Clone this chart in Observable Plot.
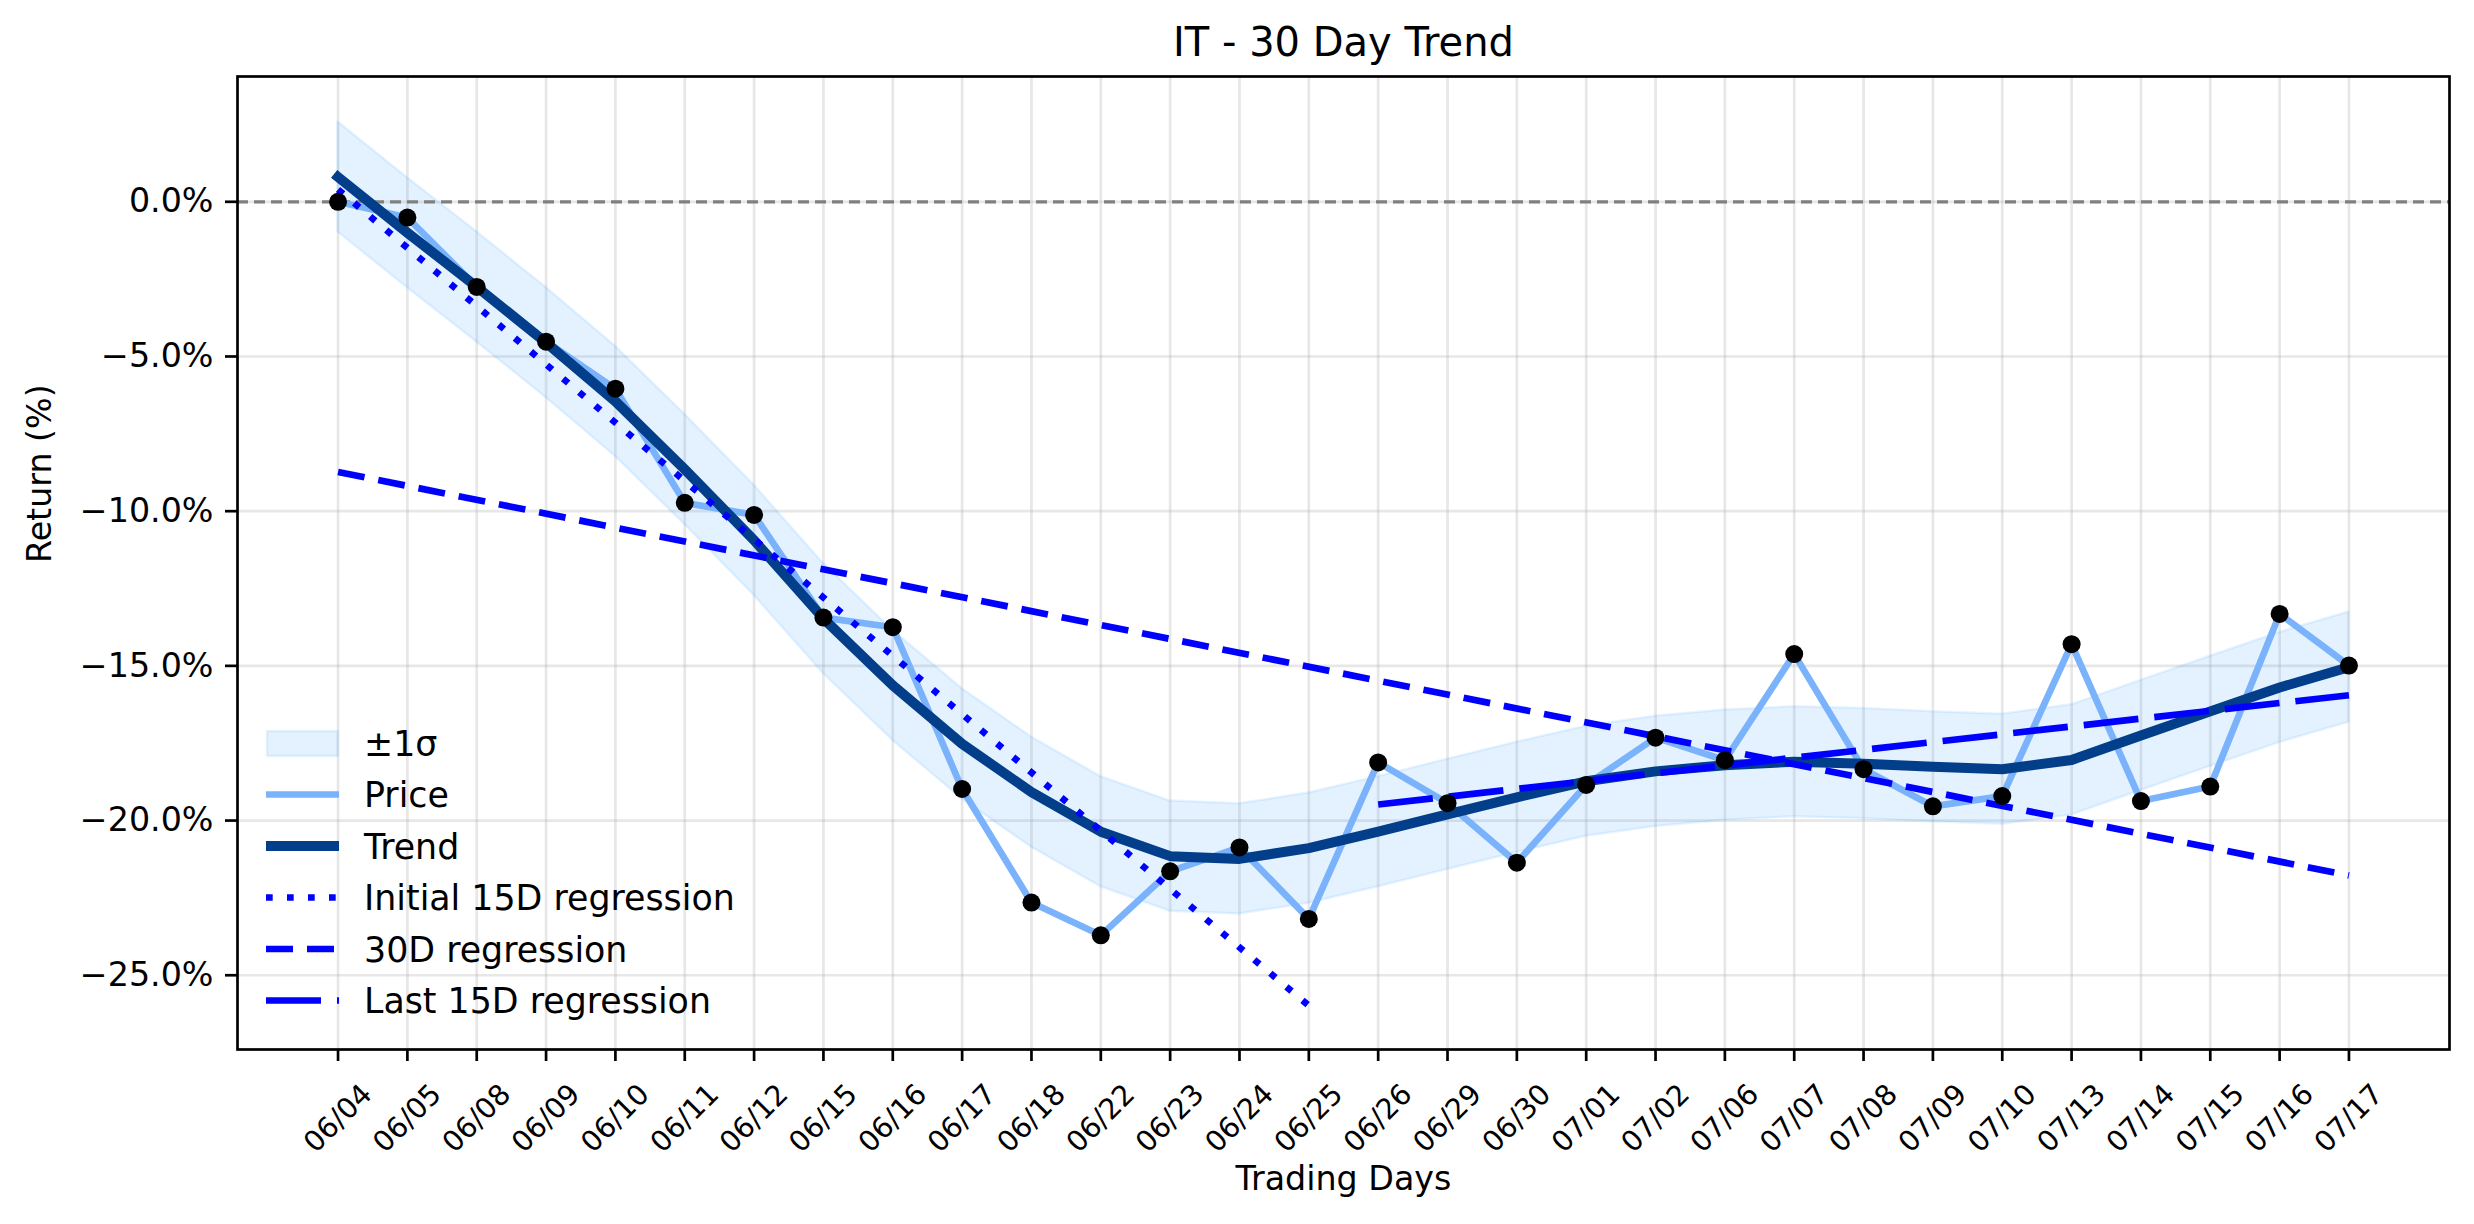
<!DOCTYPE html>
<html><head><meta charset="utf-8">
<script src="https://cdn.jsdelivr.net/npm/d3@7"></script>
<script src="https://cdn.jsdelivr.net/npm/@observablehq/plot@0.6"></script>
<style>
html,body{margin:0;padding:0;background:#fff;}
#wrap{position:relative;width:2474px;height:1224px;font-family:"DejaVu Sans",sans-serif;}
#legend{position:absolute;left:0;top:0;pointer-events:none;}
</style></head><body>
<div id="wrap"></div>
<script>
const dates = ["06/04","06/05","06/08","06/09","06/10","06/11","06/12","06/15","06/16","06/17",
  "06/18","06/22","06/23","06/24","06/25","06/26","06/29","06/30","07/01","07/02",
  "07/06","07/07","07/08","07/09","07/10","07/13","07/14","07/15","07/16","07/17"];
const price = [0.0,-0.51,-2.75,-4.52,-6.04,-9.73,-10.12,-13.44,-13.75,-18.98,
  -22.65,-23.71,-21.64,-20.87,-23.18,-18.12,-19.44,-21.36,-18.85,-17.32,
  -18.05,-14.62,-18.34,-19.54,-19.21,-14.30,-19.37,-18.90,-13.32,-14.99];
const trend = [0.80,-1.00,-2.75,-4.55,-6.45,-8.65,-10.94,-13.47,-15.63,-17.52,
  -19.08,-20.36,-21.15,-21.24,-20.89,-20.36,-19.80,-19.25,-18.73,-18.41,
  -18.21,-18.10,-18.16,-18.26,-18.34,-18.04,-17.25,-16.47,-15.70,-15.04];
const bandUpper = [2.58,0.78,-0.97,-2.77,-4.67,-6.87,-9.16,-11.69,-13.85,-15.74,
  -17.30,-18.58,-19.37,-19.46,-19.11,-18.58,-18.02,-17.47,-16.95,-16.63,
  -16.43,-16.32,-16.38,-16.48,-16.56,-16.26,-15.47,-14.69,-13.92,-13.26];
const bandLower = [-0.98,-2.78,-4.53,-6.33,-8.23,-10.43,-12.72,-15.25,-17.41,-19.30,
  -20.86,-22.14,-22.93,-23.02,-22.67,-22.14,-21.58,-21.03,-20.51,-20.19,
  -19.99,-19.88,-19.94,-20.04,-20.12,-19.82,-19.03,-18.25,-17.48,-16.82];
const yTicks = [0,-5,-10,-15,-20,-25];
const legendLabels = ["±1σ","Price","Trend","Initial 15D regression","30D regression","Last 15D regression"];
const titleText = "IT - 30 Day Trend";
const xLabel = "Trading Days";
const yLabel = "Return (%)";

const C = {band:"#1e90ff", price:"#7ab3fc", trend:"#023e8a", reg:"#0000ff", zero:"#808080"};
const LW = 6.7;
const DASH = {dot:"6.7,14.3", dash:"27,14", long:"55,16"};

const idx = dates.map((d,i)=>i);
const rows = dates.map((d,i)=>({i, date:d, price:price[i], trend:trend[i], lo:bandLower[i], hi:bandUpper[i]}));
const first15 = rows.slice(0,15), last15 = rows.slice(15);
const fmtY = v => (v < 0 ? "\u2212" : "") + Math.abs(v).toFixed(1) + "%";

const chart = Plot.plot({
  width: 2474, height: 1224,
  marginLeft: 237, marginRight: 25, marginTop: 76, marginBottom: 175,
  style: {fontFamily: "DejaVu Sans, sans-serif", fontSize: "33.3px", background: "white", color: "black"},
  x: {type: "linear", domain: [-1.45, 30.45]},
  y: {domain: [-27.4, 4.05]},
  marks: [
    Plot.gridX(idx, {stroke: "#b0b0b0", strokeOpacity: 0.3, strokeWidth: 2.7}),
    Plot.gridY(yTicks, {stroke: "#b0b0b0", strokeOpacity: 0.3, strokeWidth: 2.7}),
    Plot.areaY(rows, {x: "i", y1: "lo", y2: "hi", fill: C.band, fillOpacity: 0.12, stroke: C.band, strokeOpacity: 0.1, strokeWidth: 2.5}),
    Plot.ruleY([0], {stroke: C.zero, strokeWidth: 3.3, strokeDasharray: "11,6"}),
    Plot.line(rows, {x: "i", y: "price", stroke: C.price, strokeWidth: LW, strokeLinecap: "square", strokeLinejoin: "round"}),
    Plot.line(rows, {x: "i", y: "trend", stroke: C.trend, strokeWidth: 10, strokeLinecap: "square", strokeLinejoin: "round"}),
    Plot.linearRegressionY(first15, {x: "i", y: "price", ci: 0, stroke: C.reg, strokeWidth: LW, strokeDasharray: DASH.dot, strokeLinecap: "butt"}),
    Plot.linearRegressionY(rows, {x: "i", y: "price", ci: 0, stroke: C.reg, strokeWidth: LW, strokeDasharray: DASH.dash, strokeLinecap: "butt"}),
    Plot.linearRegressionY(last15, {x: "i", y: "price", ci: 0, stroke: C.reg, strokeWidth: LW, strokeDasharray: DASH.long, strokeLinecap: "butt"}),
    Plot.dot(rows, {x: "i", y: "price", r: 9, fill: "black", stroke: null}),
    Plot.frame({stroke: "black", strokeWidth: 2.7}),
    Plot.axisY(yTicks, {tickSize: 12, tickPadding: 12, tickFormat: fmtY, fontSize: 33.3, label: null, strokeWidth: 2.7}),
    Plot.axisX(idx, {tickSize: 12, tickFormat: () => "", label: null, strokeWidth: 2.7}),
    Plot.text(idx, {x: d => d, text: d => dates[d], frameAnchor: "bottom", dy: 69, rotate: -45, fontSize: 28.5, textAnchor: "middle", lineAnchor: "middle"}),
    Plot.text([xLabel], {frameAnchor: "bottom", dy: 130, fontSize: 33.3, lineAnchor: "middle"}),
    Plot.text([yLabel], {frameAnchor: "left", dx: -197, rotate: -90, fontSize: 33.3, lineAnchor: "middle"}),
    Plot.text([titleText], {frameAnchor: "top", dy: -33, fontSize: 40, lineAnchor: "middle"})
  ]
});
const wrap = document.getElementById("wrap");
wrap.appendChild(chart);

// legend overlay (no frame, lower-left inside axes)
const lg = d3.select(wrap).append("svg").attr("id","legend").attr("width",2474).attr("height",1224)
  .style("font-family","DejaVu Sans, sans-serif");
const rowY = [743, 794.5, 846, 897.5, 949, 1000.5];
const x0 = 266, x1 = 339, tx = 364;
const kinds = [
  {type:"band"},
  {type:"line", stroke:C.price, w:LW},
  {type:"line", stroke:C.trend, w:10},
  {type:"line", stroke:C.reg, w:LW, dash:DASH.dot},
  {type:"line", stroke:C.reg, w:LW, dash:DASH.dash},
  {type:"line", stroke:C.reg, w:LW, dash:DASH.long}
];
legendLabels.forEach((lab, k) => {
  const y = rowY[k], kd = kinds[k];
  if (kd.type === "band") {
    lg.append("rect").attr("x", x0+1).attr("y", y-12).attr("width", x1-x0-2).attr("height", 25)
      .attr("fill", C.band).attr("fill-opacity", 0.12).attr("stroke", C.band).attr("stroke-opacity", 0.1).attr("stroke-width", 2.5);
  } else {
    const l = lg.append("line").attr("x1", x0).attr("x2", x1).attr("y1", y).attr("y2", y)
      .attr("stroke", kd.stroke).attr("stroke-width", kd.w).attr("stroke-linecap", "butt");
    if (kd.dash) l.attr("stroke-dasharray", kd.dash);
  }
  lg.append("text").attr("x", tx).attr("y", y + 12.5).attr("font-size", 34.8).attr("fill", "black").text(lab);
});
</script>
</body></html>
